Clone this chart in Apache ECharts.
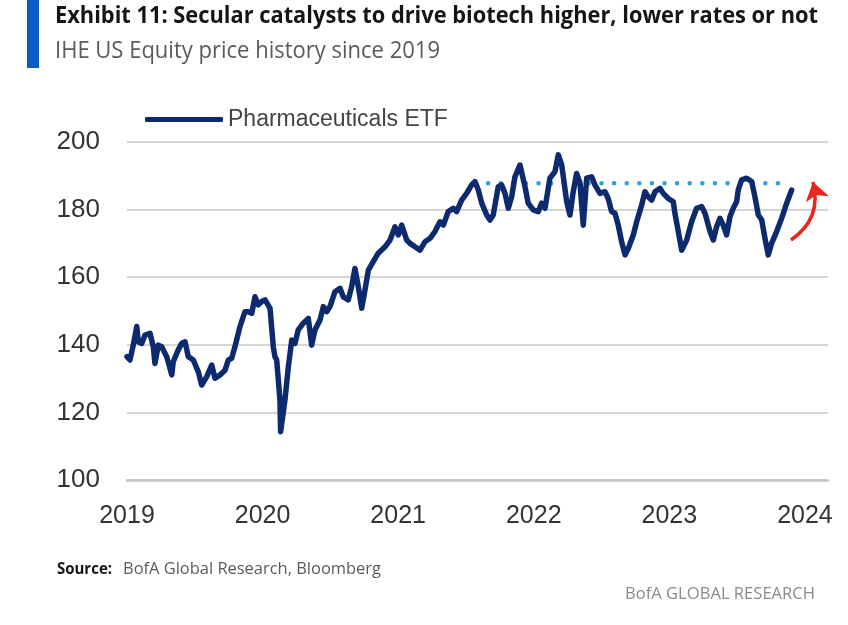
<!DOCTYPE html>
<html><head><meta charset="utf-8">
<script src="https://cdn.jsdelivr.net/npm/echarts@6/dist/echarts.min.js"></script>
<style>html,body{margin:0;padding:0;background:#fff}#c{width:848px;height:625px}</style>
</head><body><div id="c"></div>
<script>
const years = [2019.000,2019.022,2019.046,2019.072,2019.083,2019.108,2019.133,2019.170,2019.194,2019.206,2019.231,2019.256,2019.293,2019.330,2019.341,2019.378,2019.403,2019.428,2019.452,2019.489,2019.526,2019.551,2019.588,2019.625,2019.649,2019.686,2019.723,2019.747,2019.772,2019.796,2019.833,2019.870,2019.895,2019.920,2019.944,2019.968,2019.993,2020.018,2020.055,2020.079,2020.091,2020.104,2020.128,2020.133,2020.165,2020.190,2020.215,2020.239,2020.263,2020.300,2020.337,2020.362,2020.386,2020.423,2020.448,2020.473,2020.497,2020.534,2020.571,2020.595,2020.632,2020.657,2020.681,2020.706,2020.731,2020.755,2020.780,2020.816,2020.853,2020.903,2020.940,2020.976,2021.001,2021.026,2021.063,2021.087,2021.124,2021.161,2021.198,2021.235,2021.271,2021.308,2021.333,2021.369,2021.406,2021.431,2021.468,2021.505,2021.542,2021.566,2021.591,2021.616,2021.653,2021.677,2021.701,2021.738,2021.763,2021.788,2021.812,2021.837,2021.861,2021.898,2021.935,2021.959,2021.996,2022.033,2022.058,2022.083,2022.119,2022.156,2022.181,2022.206,2022.243,2022.267,2022.291,2022.316,2022.341,2022.365,2022.390,2022.427,2022.451,2022.488,2022.525,2022.549,2022.574,2022.599,2022.623,2022.648,2022.673,2022.697,2022.734,2022.759,2022.796,2022.820,2022.844,2022.869,2022.894,2022.931,2022.955,2022.992,2023.029,2023.041,2023.066,2023.091,2023.128,2023.164,2023.201,2023.238,2023.263,2023.300,2023.324,2023.349,2023.373,2023.397,2023.422,2023.447,2023.471,2023.496,2023.508,2023.533,2023.570,2023.607,2023.631,2023.656,2023.681,2023.705,2023.729,2023.754,2023.791,2023.828,2023.865,2023.902];
const prices = [136.5,135.5,139.9,145.4,140.9,140.4,142.9,143.4,139.4,134.5,139.9,139.4,136.5,131.1,135,138.5,140.4,140.9,136.5,135.5,132,128.1,130.6,134,130.1,131.1,132.5,135.5,136,139.4,145.4,149.8,149.8,149.3,154.2,151.8,152.8,153.3,150.8,139.4,136.5,135.5,123.7,114.3,123.7,133.5,141.4,140.4,144.4,146.4,147.8,139.9,144.4,147.3,151.3,149.8,151.3,155.7,156.7,154.2,153.3,157.2,162.6,157.2,150.8,156.2,162.1,164.6,167.1,169,171,174.9,172.5,175.4,171,170,169,168,170.5,171.5,173.5,176.4,175.4,179.4,180.4,179.4,182.8,184.8,187.3,188.3,185.8,181.9,178.4,176.9,178.4,186.8,187.3,184.8,180.4,183.8,189.7,193.2,186.8,181.9,179.9,179.4,181.9,180.4,189.3,191.2,196.2,193.2,182.3,178.4,185.3,190.7,187.8,175.4,189.3,189.7,187.3,184.8,185.3,183.3,179.4,178.9,175.4,170.5,166.6,168.5,172.5,176.4,181.4,185.3,183.8,182.8,185.3,186.3,184.8,183.3,182.3,178.9,173.5,168,171,176.4,180.4,180.9,178.9,173.5,171,175,177.4,175.4,172.5,177.9,180.4,182.3,185.8,188.8,189.3,188.3,183.8,178.4,177,171.5,166.6,170,173.5,177.4,181.9,185.8];
const resistanceLevel = 187.8;
const resistanceSpan = [2021.57, 2023.875];
const arrowFrom = [2023.897, 171];
const arrowTo = [2024.059, 188.2];
const yTicks = [100,120,140,160,180,200];
const xTicks = [2019,2020,2021,2022,2023,2024];

const FONT = '"Open Sans","Noto Sans",sans-serif';
const mctx = document.createElement('canvas').getContext('2d');
function fitText(text, font, color, left, top, width) {
  mctx.font = font;
  const w = mctx.measureText(text).width;
  return {type:'text', x:left, y:top, scaleX: width / w, style:{text, font, fill:color}};
}

const chart = echarts.init(document.getElementById('c'), null, {renderer:'canvas'});
const lineData = years.map((y,i)=>[y,prices[i]]);
chart.setOption({
  animation:false,
  backgroundColor:'#fff',
  graphic:[
    {type:'rect', left:27, top:0, shape:{width:12,height:68}, style:{fill:'#0a5bc4'}},
    fitText('Exhibit 11: Secular catalysts to drive biotech higher, lower rates or not', 'bold 24px '+FONT, '#151515', 55, 4, 763),
    fitText('IHE US Equity price history since 2019', '23px '+FONT, '#5a5a5a', 55, 40, 385),
    fitText('Source:', 'bold 16px '+FONT, '#151515', 57, 561, 55),
    fitText('BofA Global Research, Bloomberg', '16px '+FONT, '#5a5a5a', 123, 561, 258),
    fitText('BofA GLOBAL RESEARCH', '17px '+FONT, '#8a8a8a', 625, 586, 190)
  ],
  legend:{left:140, top:103, icon:'roundRect', itemWidth:78, itemHeight:5, itemGap:10,
    textStyle:{fontSize:23, color:'#444', fontFamily:'"Liberation Sans",sans-serif'}, data:['Pharmaceuticals ETF']},
  grid:{left:127, right:20, top:142, bottom:145},
  xAxis:{type:'value', min:2019, max:2024.17, interval:1,
    axisLine:{show:true, lineStyle:{color:'#c4c4c4', width:2.5}},
    axisTick:{show:false}, splitLine:{show:false},
    axisLabel:{fontSize:25, color:'#333', margin:24, fontFamily:'"Liberation Sans",sans-serif', showMaxLabel:false,
      formatter:v=> xTicks.includes(Math.round(v)) ? String(Math.round(v)) : ''}},
  yAxis:{type:'value', min:100, max:200, interval:20,
    axisLine:{show:false}, axisTick:{show:false},
    splitLine:{lineStyle:{color:'#d6d6d6', width:2}},
    axisLabel:{fontSize:26, color:'#333', margin:27, fontFamily:'"Liberation Sans",sans-serif',
      formatter:v=> yTicks.includes(v) ? String(v) : ''}},
  series:[
    {name:'resistance', type:'line', data:[[resistanceSpan[0],resistanceLevel],[resistanceSpan[1],resistanceLevel]],
      symbol:'none', lineStyle:{color:'#2aa3dd', width:4.5, type:[0.1,12.5], cap:'round'}, z:1},
    {name:'Pharmaceuticals ETF', type:'line', data:lineData, symbol:'none',
      lineStyle:{color:'#0d2a6e', width:5.5, join:'round', cap:'round'}, itemStyle:{color:'#0d2a6e'}, z:3},
    {name:'arrow', type:'lines', coordinateSystem:'cartesian2d', symbol:['none','arrow'], symbolSize:18,
      lineStyle:{color:'#e8261c', width:3.5, curveness:-0.35, opacity:1},
      data:[{coords:[arrowFrom, arrowTo]}], z:4}
  ]
});
</script></body></html>
